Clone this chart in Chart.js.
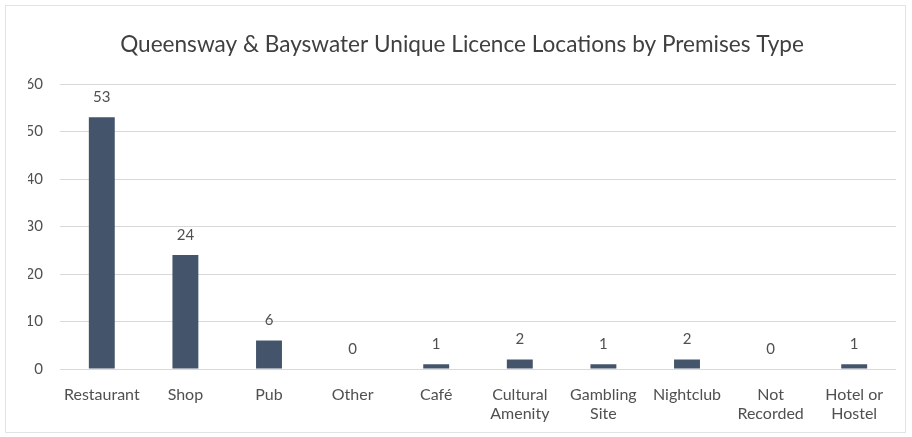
<!DOCTYPE html>
<html>
<head>
<meta charset="utf-8">
<script src="https://cdn.jsdelivr.net/npm/chart.js@4"></script>
<style>
  html, body { margin: 0; padding: 0; background: #fff; }
  #wrap { position: absolute; left: 5px; top: 5px; width: 899px; height: 426px; border: 1px solid #e3e3e3; }
</style>
</head>
<body>
<div id="wrap"><canvas id="chart"></canvas></div>
<script>
const premisesTypes = ['Restaurant', 'Shop', 'Pub', 'Other', 'Café', ['Cultural', 'Amenity'], ['Gambling', 'Site'], 'Nightclub', ['Not', 'Recorded'], ['Hotel or', 'Hostel']];
const locationCounts = [53, 24, 6, 0, 1, 2, 1, 2, 0, 1];
const yTicks = [0, 10, 20, 30, 40, 50, 60];

const fontName = 'Lato, "Open Sans", sans-serif';

// values written above each bar
const barLabels = {
    id: 'barLabels',
    afterDatasetsDraw(chart) {
        const ctx = chart.ctx;
        const meta = chart.getDatasetMeta(0);
        ctx.save();
        ctx.font = '15px ' + fontName;
        ctx.fillStyle = '#505050';
        ctx.textAlign = 'center';
        ctx.textBaseline = 'middle';
        meta.data.forEach((bar, i) => {
            ctx.fillText(String(locationCounts[i]), bar.x, bar.y - 20);
        });
        ctx.restore();
    }
};

const ctx = document.getElementById('chart').getContext('2d');
new Chart(ctx, {
    type: 'bar',
    data: {
        labels: premisesTypes,
        datasets: [{
            data: locationCounts,
            backgroundColor: '#44546a',
            barPercentage: 0.31,
            categoryPercentage: 1
        }]
    },
    options: {
        responsive: true,
        maintainAspectRatio: false,
        animation: false,
        layout: { padding: { left: 22, right: 9, top: 0, bottom: 0 } },
        plugins: {
            legend: { display: false },
            tooltip: { enabled: false },
            title: {
                display: true,
                text: 'Queensway & Bayswater Unique Licence Locations by Premises Type',
                color: '#404040',
                font: { family: fontName, size: 22.6, weight: 'normal' },
                padding: { top: 25, bottom: 26 }
            }
        },
        scales: {
            x: {
                grid: { display: false },
                border: { display: false },
                afterFit(axis) {
                    axis.height = 63;
                },
                ticks: {
                    color: '#505050',
                    font: { family: fontName, size: 16 },
                    maxRotation: 0,
                    autoSkip: false,
                    padding: 8
                }
            },
            y: {
                min: 0,
                max: 60,
                afterBuildTicks(axis) {
                    axis.ticks = yTicks.map(v => ({ value: v }));
                },
                afterFit(axis) {
                    axis.width = 32;
                },
                grid: { color: '#d9d9d9', drawTicks: false },
                border: { display: false },
                ticks: {
                    color: '#505050',
                    font: { family: fontName, size: 15 },
                    padding: 17
                }
            }
        }
    },
    plugins: [barLabels]
});
</script>
</body>
</html>
